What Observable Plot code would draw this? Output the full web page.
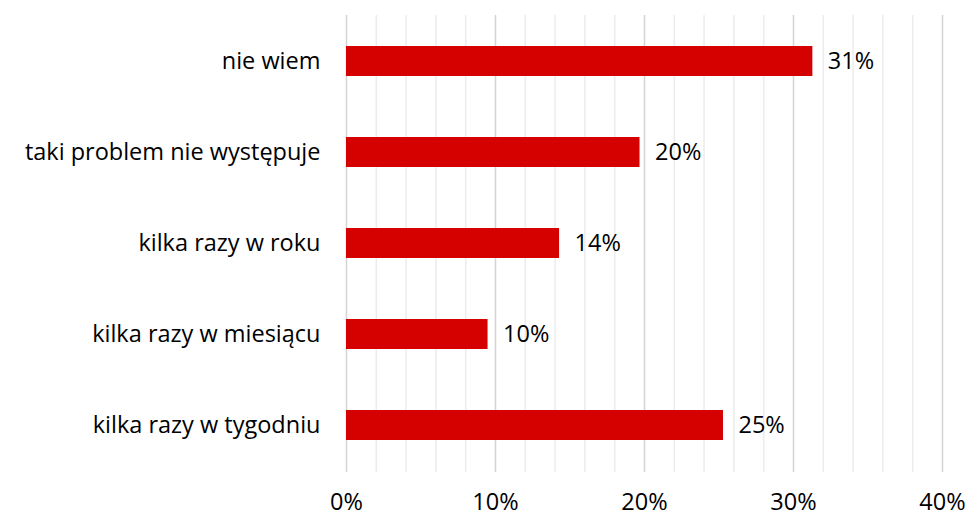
<!DOCTYPE html>
<html>
<head>
<meta charset="utf-8">
<script src="https://cdn.jsdelivr.net/npm/d3@7"></script>
<script src="https://cdn.jsdelivr.net/npm/@observablehq/plot@0.6"></script>
<style>
  html, body { margin: 0; padding: 0; background: #fff; }
  #chart svg { display: block; }
</style>
</head>
<body>
<div id="chart"></div>
<script>
const categories = ["nie wiem", "taki problem nie występuje", "kilka razy w roku", "kilka razy w miesiącu", "kilka razy w tygodniu"];
const values = [31.3, 19.7, 14.3, 9.5, 25.3];
const valueLabels = ["31%", "20%", "14%", "10%", "25%"];
const xTicks = [0, 10, 20, 30, 40];
const minorTicks = d3.range(0, 41, 2);

const data = categories.map((c, i) => ({category: c, value: values[i], label: valueLabels[i]}));

const FONT = "'Open Sans', sans-serif";
const FS = 23.5;

const chart = Plot.plot({
  width: 967,
  height: 519,
  marginLeft: 346,
  marginRight: 25,
  marginTop: 15,
  marginBottom: 47,
  style: {fontFamily: FONT, fontSize: FS + "px", color: "#000"},
  x: {domain: [0, 40]},
  y: {domain: categories, paddingInner: 0.67, paddingOuter: 0.335, label: null},
  marks: [
    Plot.ruleX(minorTicks.filter(d => d % 10 !== 0), {stroke: "#ececec", strokeWidth: 1.5}),
    Plot.ruleX(xTicks, {stroke: "#d4d4d4", strokeWidth: 1.5}),
    Plot.barX(data, {x: "value", y: "category", fill: "#d50000"}),
    Plot.text(data, {x: "value", y: "category", text: "label", textAnchor: "start", dx: 15, fontSize: FS, fill: "#000"}),
    Plot.axisX({ticks: xTicks, tickSize: 0, tickPadding: 21, tickFormat: d => d + "%", label: null, fontSize: FS, fill: "#000"}),
    Plot.axisY({tickSize: 0, tickPadding: 26, label: null, fontSize: FS, fill: "#000"})
  ]
});
document.getElementById("chart").appendChild(chart);
</script>
</body>
</html>
